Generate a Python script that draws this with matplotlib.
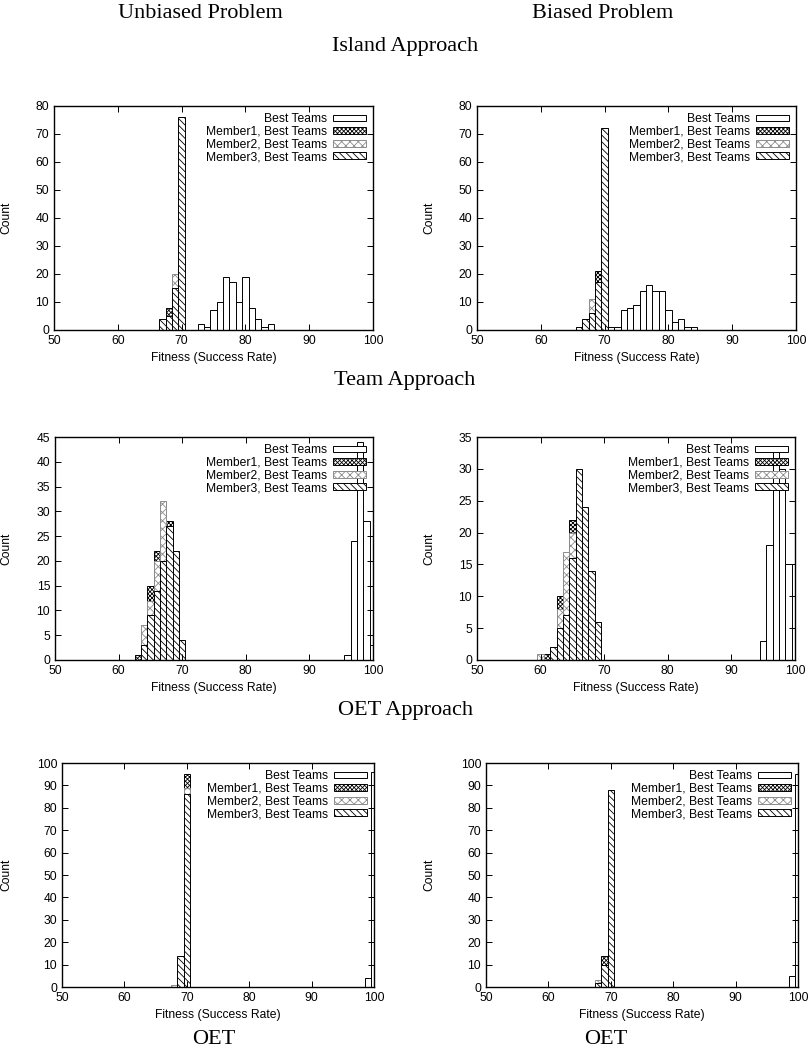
import matplotlib
matplotlib.use("Agg")
import numpy as np
import matplotlib.pyplot as plt
from matplotlib.patches import Patch

# each series is (first fitness bin, counts per 1-point bin)
island_unb_best = (73, [2, 1, 7, 10, 19, 17, 10, 19, 8, 4, 1, 2])
island_unb_m1 = (67, [3, 8, 15, 74])
island_unb_m2 = (67, [2, 4, 20, 74])
island_unb_m3 = (67, [4, 5, 15, 76])

island_bia_best = (71, [1, 1, 7, 8, 9, 14, 16, 14, 14, 7, 3, 4, 1, 1])
island_bia_m1 = (67, [2, 8, 21, 69])
island_bia_m2 = (66, [1, 3, 11, 17, 68])
island_bia_m3 = (66, [1, 4, 6, 17, 72])

team_unb_best = (96, [1, 24, 44, 28, 3])
team_unb_m1 = (63, [1, 4, 15, 22, 14, 28, 13, 3])
team_unb_m2 = (64, [7, 12, 20, 32, 18, 9, 2])
team_unb_m3 = (64, [3, 9, 14, 20, 27, 22, 4])

team_bia_best = (95, [3, 18, 33, 30, 15])
team_bia_m1 = (61, [1, 1, 10, 13, 22, 25, 16, 8, 4])
team_bia_m2 = (60, [1, 0, 2, 8, 17, 20, 26, 18, 6, 2])
team_bia_m3 = (62, [2, 5, 7, 16, 30, 24, 14, 6])

oet_unb_best = (99, [4, 96])
oet_unb_m1 = (69, [5, 95])
oet_unb_m2 = (68, [1, 10, 89])
oet_unb_m3 = (69, [14, 86])

oet_bia_best = (99, [5, 95])
oet_bia_m1 = (69, [14, 86])
oet_bia_m2 = (68, [3, 9, 88])
oet_bia_m3 = (68, [2, 10, 88])

series_labels = ["Best Teams", "Member1, Best Teams",
                 "Member2, Best Teams", "Member3, Best Teams"]

panels = [
    [island_unb_best, island_unb_m1, island_unb_m2, island_unb_m3],
    [island_bia_best, island_bia_m1, island_bia_m2, island_bia_m3],
    [team_unb_best, team_unb_m1, team_unb_m2, team_unb_m3],
    [team_bia_best, team_bia_m1, team_bia_m2, team_bia_m3],
    [oet_unb_best, oet_unb_m1, oet_unb_m2, oet_unb_m3],
    [oet_bia_best, oet_bia_m1, oet_bia_m2, oet_bia_m3],
]
y_limits = [(80, 10), (80, 10), (45, 5), (35, 5), (100, 10), (100, 10)]

# bar styles, in drawing order
styles = [
    dict(hatch=None, edgecolor="black"),
    dict(hatch="xxxxxxxx", edgecolor="black"),
    dict(hatch="xxxx", edgecolor="0.55"),
    dict(hatch="\\" * 5, edgecolor="black"),
]

plt.rcParams["hatch.linewidth"] = 0.6
plt.rcParams["font.family"] = ["Liberation Sans", "DejaVu Sans"]

W, H = 811, 1053
fig = plt.figure(figsize=(W / 100, H / 100), dpi=100)

# axes boxes in pixels: left, top, right, bottom
boxes = [
    (54, 106, 373, 330), (477, 106, 796, 330),
    (55, 437, 373, 660), (477, 437, 795, 660),
    (62, 763, 374, 987), (486, 763, 798, 987),
]
count_x = [12, 435, 12, 435, 12, 435]

small = 8.7
for i, (data, box) in enumerate(zip(panels, boxes)):
    l, t, r, b = box
    ax = fig.add_axes([l / W, 1 - b / H, (r - l) / W, (b - t) / H])
    for (start, counts), st in zip(data, styles):
        x = np.arange(start, start + len(counts))
        ax.bar(x, counts, width=1.0, color="white", linewidth=0.7, **st)
    ymax, ystep = y_limits[i]
    ax.set_xlim(50, 100)
    ax.set_ylim(0, ymax)
    ax.set_xticks(np.arange(50, 101, 10))
    ax.set_yticks(np.arange(0, ymax + 1, ystep))
    ax.tick_params(direction="in", top=True, right=True, length=4,
                   width=0.7, labelsize=small)
    for s in ax.spines.values():
        s.set_linewidth(1.0)
    ax.set_xlabel("Fitness (Success Rate)", fontsize=small)
    ax.set_ylabel("Count", fontsize=small)
    ax.yaxis.set_label_coords((count_x[i] - l) / (r - l), 0.5)

    handles = [Patch(facecolor="white", linewidth=0.7, **st) for st in styles]
    ax.legend(handles, series_labels, loc="upper right", frameon=False,
              markerfirst=False, fontsize=small, handlelength=2.7,
              handleheight=0.5, handletextpad=0.5, labelspacing=0.05,
              borderaxespad=0.4, borderpad=0.2)

serif = dict(family=["Liberation Serif", "DejaVu Serif"], fontsize=16,
             ha="center", va="center")
fig.text(200 / W, 1 - 14 / H, "Unbiased Problem", **serif)
fig.text(603 / W, 1 - 14 / H, "Biased Problem", **serif)
fig.text(405 / W, 1 - 47 / H, "Island Approach", **serif)
fig.text(405 / W, 1 - 380 / H, "Team Approach", **serif)
fig.text(405 / W, 1 - 711 / H, "OET Approach", **serif)
fig.text(214 / W, 1 - 1040 / H, "OET", **serif)
fig.text(606 / W, 1 - 1040 / H, "OET", **serif)

fig.savefig("out.png", dpi=100)
